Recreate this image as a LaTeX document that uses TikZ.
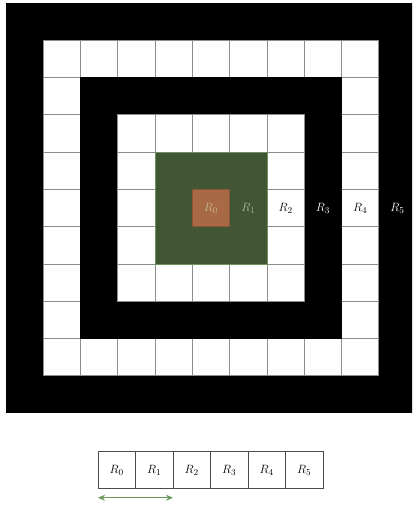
\documentclass[tikz,border=0pt]{standalone}
\usetikzlibrary{arrows.meta}
\definecolor{orng}{HTML}{A86A45}
\definecolor{orngdark}{HTML}{8A5535}
\definecolor{grn}{HTML}{415634}
\definecolor{grnedge}{HTML}{6E9060}
\definecolor{lblzero}{HTML}{C8B898}
\definecolor{lblone}{HTML}{A8B898}
\definecolor{arrowgrn}{HTML}{6A9A5A}
\begin{document}
\begin{tikzpicture}[x=1pt,y=-1pt,
  cellw/.style={draw=black!45,fill=white,line width=0.8pt,minimum size=37.3pt,inner sep=0pt,outer sep=0pt},
  rowcell/.style={draw=black!70,fill=white,line width=0.8pt,minimum size=37.5pt,inner sep=0pt,outer sep=0pt},
  lbl/.style={font=\fontsize{13}{15}\selectfont,inner sep=0pt}]
\useasboundingbox (0,0) rectangle (412,508);
\def\s{37.3}\def\cx{211}\def\cy{208}
% ring 5 (black)
\begin{scope}
\clip (0,0) rectangle (412,508);
\fill[black] (\cx-5.5*\s,\cy-5.5*\s) rectangle (\cx+5.5*\s,\cy+5.5*\s);
\end{scope}
% ring 4 (white cells)
\foreach \i in {-4,...,4}{
  \node[cellw] (ra\i) at (\cx+\i*\s,\cy-4*\s) {};
  \node[cellw] (rb\i) at (\cx+\i*\s,\cy+4*\s) {};
}
\foreach \j in {-3,...,3}{
  \node[cellw] (rc\j) at (\cx-4*\s,\cy+\j*\s) {};
  \node[cellw] (rd\j) at (\cx+4*\s,\cy+\j*\s) {};
}
% ring 3 (black)
\fill[black] (\cx-3.5*\s,\cy-3.5*\s) rectangle (\cx+3.5*\s,\cy+3.5*\s);
% ring 2 (white cells)
\foreach \i in {-2,...,2}{
  \node[cellw] (sa\i) at (\cx+\i*\s,\cy-2*\s) {};
  \node[cellw] (sb\i) at (\cx+\i*\s,\cy+2*\s) {};
}
\foreach \j in {-1,...,1}{
  \node[cellw] (sc\j) at (\cx-2*\s,\cy+\j*\s) {};
  \node[cellw] (sd\j) at (\cx+2*\s,\cy+\j*\s) {};
}
% ring 1 (green)
\node[draw=grnedge,fill=grn,line width=0.8pt,minimum size=3*\s pt,inner sep=0pt] (ring1) at (\cx,\cy) {};
% ring 0 (orange)
\node[draw=orngdark,fill=orng,line width=0.8pt,minimum size=\s pt,inner sep=0pt] (ring0) at (\cx,\cy) {};
% labels
\node[lbl,text=lblzero] (l0) at (\cx,\cy) {$R_0$};
\node[lbl,text=lblone] (l1) at (\cx+\s,\cy) {$R_1$};
\node[lbl,text=black] (l2) at (\cx+2*\s,\cy) {$R_2$};
\node[lbl,text=white] (l3) at (\cx+3*\s,\cy) {$R_3$};
\node[lbl,text=black] (l4) at (\cx+4*\s,\cy) {$R_4$};
\node[lbl,text=white] (l5) at (\cx+5*\s,\cy) {$R_5$};
% bottom row
\foreach \k in {0,...,5}{
  \node[rowcell,font=\fontsize{13}{15}\selectfont] (b\k) at (98+37.5*\k+18.75,470) {$R_\k$};
}
\coordinate (aL) at ([yshift=-9pt]b0.south west);
\coordinate (aR) at ([yshift=-9pt]b1.south east);
\draw[arrowgrn,line width=1.2pt,{Stealth[length=7pt,width=6pt]}-{Stealth[length=7pt,width=6pt]}] (aL) -- (aR);
\end{tikzpicture}
\end{document}
